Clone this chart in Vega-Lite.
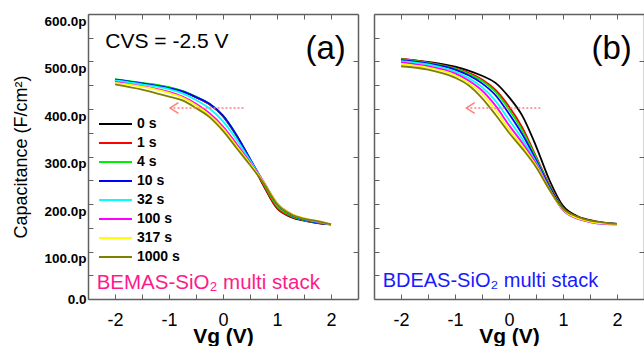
{
  "$schema": "https://vega.github.io/schema/vega-lite/v6.json",
  "padding": {"left": 12, "top": 13, "right": 0, "bottom": 0},
  "config": {
    "font": "Liberation Sans",
    "view": {"stroke": null},
    "axis": {"grid": false, "domainColor": "#606060", "tickColor": "#606060", "domainWidth": 1.5, "tickWidth": 1, "labelColor": "#000000", "titleColor": "#000000", "labelFont": "Liberation Sans", "titleFont": "Liberation Sans"},
    "line": {"strokeWidth": 1.8, "interpolate": "monotone"}
  },
  "datasets": {
    "curves": [
      {"p":"a","t":"0 s","v":-2,"c":462},{"p":"a","t":"0 s","v":-1.5,"c":454},{"p":"a","t":"0 s","v":-1,"c":445},{"p":"a","t":"0 s","v":-0.75,"c":437},{"p":"a","t":"0 s","v":-0.5,"c":425},{"p":"a","t":"0 s","v":-0.25,"c":410},{"p":"a","t":"0 s","v":0,"c":385},{"p":"a","t":"0 s","v":0.25,"c":344},{"p":"a","t":"0 s","v":0.5,"c":294},{"p":"a","t":"0 s","v":0.75,"c":239},{"p":"a","t":"0 s","v":1,"c":191},{"p":"a","t":"0 s","v":1.25,"c":173},{"p":"a","t":"0 s","v":1.5,"c":165},{"p":"a","t":"0 s","v":1.75,"c":160},{"p":"a","t":"0 s","v":2,"c":157},
      {"p":"a","t":"1 s","v":-2,"c":462},{"p":"a","t":"1 s","v":-1.5,"c":454},{"p":"a","t":"1 s","v":-1,"c":445},{"p":"a","t":"1 s","v":-0.75,"c":437},{"p":"a","t":"1 s","v":-0.5,"c":425},{"p":"a","t":"1 s","v":-0.25,"c":410},{"p":"a","t":"1 s","v":0,"c":385},{"p":"a","t":"1 s","v":0.25,"c":344},{"p":"a","t":"1 s","v":0.5,"c":294},{"p":"a","t":"1 s","v":0.75,"c":240},{"p":"a","t":"1 s","v":1,"c":192},{"p":"a","t":"1 s","v":1.25,"c":174},{"p":"a","t":"1 s","v":1.5,"c":166},{"p":"a","t":"1 s","v":1.75,"c":160},{"p":"a","t":"1 s","v":2,"c":157},
      {"p":"a","t":"4 s","v":-2,"c":463},{"p":"a","t":"4 s","v":-1.5,"c":455},{"p":"a","t":"4 s","v":-1,"c":446},{"p":"a","t":"4 s","v":-0.75,"c":438},{"p":"a","t":"4 s","v":-0.5,"c":426},{"p":"a","t":"4 s","v":-0.25,"c":411},{"p":"a","t":"4 s","v":0,"c":386},{"p":"a","t":"4 s","v":0.25,"c":345},{"p":"a","t":"4 s","v":0.5,"c":295},{"p":"a","t":"4 s","v":0.75,"c":243},{"p":"a","t":"4 s","v":1,"c":196},{"p":"a","t":"4 s","v":1.25,"c":176},{"p":"a","t":"4 s","v":1.5,"c":166},{"p":"a","t":"4 s","v":1.75,"c":161},{"p":"a","t":"4 s","v":2,"c":157},
      {"p":"a","t":"10 s","v":-2,"c":462},{"p":"a","t":"10 s","v":-1.5,"c":454},{"p":"a","t":"10 s","v":-1,"c":444},{"p":"a","t":"10 s","v":-0.75,"c":437},{"p":"a","t":"10 s","v":-0.5,"c":425},{"p":"a","t":"10 s","v":-0.25,"c":411},{"p":"a","t":"10 s","v":0,"c":386},{"p":"a","t":"10 s","v":0.25,"c":345},{"p":"a","t":"10 s","v":0.5,"c":295},{"p":"a","t":"10 s","v":0.75,"c":246},{"p":"a","t":"10 s","v":1,"c":200},{"p":"a","t":"10 s","v":1.25,"c":178},{"p":"a","t":"10 s","v":1.5,"c":167},{"p":"a","t":"10 s","v":1.75,"c":161},{"p":"a","t":"10 s","v":2,"c":157},
      {"p":"a","t":"32 s","v":-2,"c":460},{"p":"a","t":"32 s","v":-1.5,"c":452},{"p":"a","t":"32 s","v":-1,"c":442},{"p":"a","t":"32 s","v":-0.75,"c":433},{"p":"a","t":"32 s","v":-0.5,"c":419},{"p":"a","t":"32 s","v":-0.25,"c":401},{"p":"a","t":"32 s","v":0,"c":374},{"p":"a","t":"32 s","v":0.25,"c":336},{"p":"a","t":"32 s","v":0.5,"c":292},{"p":"a","t":"32 s","v":0.75,"c":247},{"p":"a","t":"32 s","v":1,"c":201},{"p":"a","t":"32 s","v":1.25,"c":179},{"p":"a","t":"32 s","v":1.5,"c":168},{"p":"a","t":"32 s","v":1.75,"c":162},{"p":"a","t":"32 s","v":2,"c":157},
      {"p":"a","t":"100 s","v":-2,"c":457},{"p":"a","t":"100 s","v":-1.5,"c":448},{"p":"a","t":"100 s","v":-1,"c":436},{"p":"a","t":"100 s","v":-0.75,"c":426},{"p":"a","t":"100 s","v":-0.5,"c":411},{"p":"a","t":"100 s","v":-0.25,"c":391},{"p":"a","t":"100 s","v":0,"c":363},{"p":"a","t":"100 s","v":0.25,"c":327},{"p":"a","t":"100 s","v":0.5,"c":288},{"p":"a","t":"100 s","v":0.75,"c":247},{"p":"a","t":"100 s","v":1,"c":202},{"p":"a","t":"100 s","v":1.25,"c":180},{"p":"a","t":"100 s","v":1.5,"c":169},{"p":"a","t":"100 s","v":1.75,"c":163},{"p":"a","t":"100 s","v":2,"c":157},
      {"p":"a","t":"317 s","v":-2,"c":455},{"p":"a","t":"317 s","v":-1.5,"c":447},{"p":"a","t":"317 s","v":-1,"c":434},{"p":"a","t":"317 s","v":-0.75,"c":424},{"p":"a","t":"317 s","v":-0.5,"c":408},{"p":"a","t":"317 s","v":-0.25,"c":387},{"p":"a","t":"317 s","v":0,"c":359},{"p":"a","t":"317 s","v":0.25,"c":322},{"p":"a","t":"317 s","v":0.5,"c":285},{"p":"a","t":"317 s","v":0.75,"c":246},{"p":"a","t":"317 s","v":1,"c":202},{"p":"a","t":"317 s","v":1.25,"c":180},{"p":"a","t":"317 s","v":1.5,"c":170},{"p":"a","t":"317 s","v":1.75,"c":164},{"p":"a","t":"317 s","v":2,"c":157},
      {"p":"a","t":"1000 s","v":-2,"c":452},{"p":"a","t":"1000 s","v":-1.5,"c":441},{"p":"a","t":"1000 s","v":-1,"c":426},{"p":"a","t":"1000 s","v":-0.75,"c":418},{"p":"a","t":"1000 s","v":-0.5,"c":402},{"p":"a","t":"1000 s","v":-0.25,"c":383},{"p":"a","t":"1000 s","v":0,"c":354},{"p":"a","t":"1000 s","v":0.25,"c":318},{"p":"a","t":"1000 s","v":0.5,"c":282},{"p":"a","t":"1000 s","v":0.75,"c":244},{"p":"a","t":"1000 s","v":1,"c":200},{"p":"a","t":"1000 s","v":1.25,"c":179},{"p":"a","t":"1000 s","v":1.5,"c":169},{"p":"a","t":"1000 s","v":1.75,"c":164},{"p":"a","t":"1000 s","v":2,"c":157},
      {"p":"b","t":"0 s","v":-2,"c":505},{"p":"b","t":"0 s","v":-1.5,"c":499},{"p":"b","t":"0 s","v":-1,"c":489},{"p":"b","t":"0 s","v":-0.75,"c":481},{"p":"b","t":"0 s","v":-0.5,"c":470},{"p":"b","t":"0 s","v":-0.25,"c":455},{"p":"b","t":"0 s","v":0,"c":425},{"p":"b","t":"0 s","v":0.25,"c":385},{"p":"b","t":"0 s","v":0.5,"c":322},{"p":"b","t":"0 s","v":0.75,"c":250},{"p":"b","t":"0 s","v":1,"c":196},{"p":"b","t":"0 s","v":1.25,"c":175},{"p":"b","t":"0 s","v":1.5,"c":166},{"p":"b","t":"0 s","v":1.75,"c":161},{"p":"b","t":"0 s","v":2,"c":158},
      {"p":"b","t":"1 s","v":-2,"c":506},{"p":"b","t":"1 s","v":-1.5,"c":498},{"p":"b","t":"1 s","v":-1,"c":486},{"p":"b","t":"1 s","v":-0.75,"c":476},{"p":"b","t":"1 s","v":-0.5,"c":462},{"p":"b","t":"1 s","v":-0.25,"c":440},{"p":"b","t":"1 s","v":0,"c":405},{"p":"b","t":"1 s","v":0.25,"c":360},{"p":"b","t":"1 s","v":0.5,"c":300},{"p":"b","t":"1 s","v":0.75,"c":240},{"p":"b","t":"1 s","v":1,"c":192},{"p":"b","t":"1 s","v":1.25,"c":173},{"p":"b","t":"1 s","v":1.5,"c":165},{"p":"b","t":"1 s","v":1.75,"c":160},{"p":"b","t":"1 s","v":2,"c":158},
      {"p":"b","t":"4 s","v":-2,"c":505},{"p":"b","t":"4 s","v":-1.5,"c":497},{"p":"b","t":"4 s","v":-1,"c":485},{"p":"b","t":"4 s","v":-0.75,"c":474},{"p":"b","t":"4 s","v":-0.5,"c":459},{"p":"b","t":"4 s","v":-0.25,"c":436},{"p":"b","t":"4 s","v":0,"c":399},{"p":"b","t":"4 s","v":0.25,"c":354},{"p":"b","t":"4 s","v":0.5,"c":297},{"p":"b","t":"4 s","v":0.75,"c":238},{"p":"b","t":"4 s","v":1,"c":191},{"p":"b","t":"4 s","v":1.25,"c":172},{"p":"b","t":"4 s","v":1.5,"c":164},{"p":"b","t":"4 s","v":1.75,"c":160},{"p":"b","t":"4 s","v":2,"c":158},
      {"p":"b","t":"10 s","v":-2,"c":503},{"p":"b","t":"10 s","v":-1.5,"c":496},{"p":"b","t":"10 s","v":-1,"c":483},{"p":"b","t":"10 s","v":-0.75,"c":471},{"p":"b","t":"10 s","v":-0.5,"c":454},{"p":"b","t":"10 s","v":-0.25,"c":429},{"p":"b","t":"10 s","v":0,"c":390},{"p":"b","t":"10 s","v":0.25,"c":346},{"p":"b","t":"10 s","v":0.5,"c":293},{"p":"b","t":"10 s","v":0.75,"c":236},{"p":"b","t":"10 s","v":1,"c":190},{"p":"b","t":"10 s","v":1.25,"c":172},{"p":"b","t":"10 s","v":1.5,"c":164},{"p":"b","t":"10 s","v":1.75,"c":160},{"p":"b","t":"10 s","v":2,"c":158},
      {"p":"b","t":"32 s","v":-2,"c":501},{"p":"b","t":"32 s","v":-1.5,"c":494},{"p":"b","t":"32 s","v":-1,"c":479},{"p":"b","t":"32 s","v":-0.75,"c":465},{"p":"b","t":"32 s","v":-0.5,"c":446},{"p":"b","t":"32 s","v":-0.25,"c":417},{"p":"b","t":"32 s","v":0,"c":377},{"p":"b","t":"32 s","v":0.25,"c":336},{"p":"b","t":"32 s","v":0.5,"c":288},{"p":"b","t":"32 s","v":0.75,"c":232},{"p":"b","t":"32 s","v":1,"c":187},{"p":"b","t":"32 s","v":1.25,"c":170},{"p":"b","t":"32 s","v":1.5,"c":162},{"p":"b","t":"32 s","v":1.75,"c":158},{"p":"b","t":"32 s","v":2,"c":157},
      {"p":"b","t":"100 s","v":-2,"c":498},{"p":"b","t":"100 s","v":-1.5,"c":490},{"p":"b","t":"100 s","v":-1,"c":475},{"p":"b","t":"100 s","v":-0.75,"c":460},{"p":"b","t":"100 s","v":-0.5,"c":439},{"p":"b","t":"100 s","v":-0.25,"c":407},{"p":"b","t":"100 s","v":0,"c":366},{"p":"b","t":"100 s","v":0.25,"c":328},{"p":"b","t":"100 s","v":0.5,"c":285},{"p":"b","t":"100 s","v":0.75,"c":231},{"p":"b","t":"100 s","v":1,"c":187},{"p":"b","t":"100 s","v":1.25,"c":170},{"p":"b","t":"100 s","v":1.5,"c":162},{"p":"b","t":"100 s","v":1.75,"c":158},{"p":"b","t":"100 s","v":2,"c":157},
      {"p":"b","t":"317 s","v":-2,"c":495},{"p":"b","t":"317 s","v":-1.5,"c":487},{"p":"b","t":"317 s","v":-1,"c":471},{"p":"b","t":"317 s","v":-0.75,"c":455},{"p":"b","t":"317 s","v":-0.5,"c":432},{"p":"b","t":"317 s","v":-0.25,"c":398},{"p":"b","t":"317 s","v":0,"c":357},{"p":"b","t":"317 s","v":0.25,"c":321},{"p":"b","t":"317 s","v":0.5,"c":281},{"p":"b","t":"317 s","v":0.75,"c":230},{"p":"b","t":"317 s","v":1,"c":188},{"p":"b","t":"317 s","v":1.25,"c":171},{"p":"b","t":"317 s","v":1.5,"c":163},{"p":"b","t":"317 s","v":1.75,"c":159},{"p":"b","t":"317 s","v":2,"c":158},
      {"p":"b","t":"1000 s","v":-2,"c":490},{"p":"b","t":"1000 s","v":-1.5,"c":483},{"p":"b","t":"1000 s","v":-1,"c":466},{"p":"b","t":"1000 s","v":-0.75,"c":450},{"p":"b","t":"1000 s","v":-0.5,"c":423},{"p":"b","t":"1000 s","v":-0.25,"c":388},{"p":"b","t":"1000 s","v":0,"c":350},{"p":"b","t":"1000 s","v":0.25,"c":316},{"p":"b","t":"1000 s","v":0.5,"c":278},{"p":"b","t":"1000 s","v":0.75,"c":230},{"p":"b","t":"1000 s","v":1,"c":190},{"p":"b","t":"1000 s","v":1.25,"c":174},{"p":"b","t":"1000 s","v":1.5,"c":165},{"p":"b","t":"1000 s","v":1.75,"c":161},{"p":"b","t":"1000 s","v":2,"c":158}
    ]
  },
  "spacing": 14,
  "resolve": {"scale": {"color": "independent"}},
  "hconcat": [
    {
      "width": 270,
      "height": 285,
      "resolve": {"axis": {"x": "independent", "y": "independent"}},
      "layer": [
        {
          "data": {"name": "curves"},
          "transform": [{"filter": "datum.p == 'a'"}],
          "mark": {"type": "line"},
          "encoding": {
            "x": {"field": "v", "type": "quantitative", "scale": {"domain": [-2.5, 2.5], "nice": false},
              "axis": {"orient": "bottom", "values": [-2, -1.5, -1, -0.5, 0, 0.5, 1, 1.5, 2], "labelExpr": "datum.value % 1 == 0 ? '' + datum.value : ''", "tickSize": -5, "labelPadding": 17, "labelFontSize": 18, "labelFlush": false, "labelOverlap": false, "title": "Vg (V)", "titleFontSize": 21, "titleFontWeight": "bold", "titlePadding": -4}},
            "y": {"field": "c", "type": "quantitative", "scale": {"domain": [0, 600], "nice": false},
              "axis": {"orient": "left", "values": [0, 50, 100, 150, 200, 250, 300, 350, 400, 450, 500, 550, 600], "labelExpr": "datum.value % 100 != 0 ? '' : (datum.value == 0 ? '0.0' : datum.value + '.0p')", "tickSize": -5, "labelPadding": 7, "labelFontSize": 13.5, "labelFontWeight": "bold", "labelBaseline": {"condition": {"test": "datum.value == 0", "value": "middle"}, "value": "top"}, "labelFlush": false, "labelOverlap": false, "title": "Capacitance (F/cm²)", "titleFontSize": 18, "titleFontWeight": "normal", "titlePadding": 13}},
            "color": {"field": "t", "type": "nominal",
              "scale": {"domain": ["0 s", "1 s", "4 s", "10 s", "32 s", "100 s", "317 s", "1000 s"], "range": ["#000000", "#ff0000", "#00ee00", "#0000ff", "#00ffff", "#ff00ff", "#ffff00", "#808000"]},
              "legend": {"orient": "none", "legendX": 4, "legendY": 103, "title": null, "symbolType": "M0,0H6", "symbolSize": 121, "symbolStrokeWidth": 2.5, "labelFontSize": 14, "labelFontWeight": "bold", "labelOffset": 31, "rowPadding": 5, "padding": 0, "labelColor": "#000000"}}
          }
        },
        {
          "data": {"values": [{"x1": 0.38, "x2": -0.98, "y": 402}]},
          "mark": {"type": "rule", "color": "#ff7f7f", "strokeWidth": 1.5, "strokeDash": [2, 2]},
          "encoding": {
            "x": {"field": "x1", "type": "quantitative", "scale": {"domain": [-2.5, 2.5], "nice": false},
              "axis": {"orient": "top", "values": [-2, -1.5, -1, -0.5, 0, 0.5, 1, 1.5, 2], "labels": false, "tickSize": -5, "title": null}},
            "x2": {"field": "x2"},
            "y": {"field": "y", "type": "quantitative", "scale": {"domain": [0, 600], "nice": false},
              "axis": {"orient": "right", "values": [100, 200, 300, 400, 500], "labels": false, "tickSize": -5, "title": null}}
          }
        },
        {
          "data": {"values": [{"x": -0.98, "y": 402}]},
          "mark": {"type": "point", "shape": "M2,-1.3L0,0L2,1.3", "size": 69, "filled": false, "stroke": "#ff7f7f", "strokeWidth": 1.5, "opacity": 1},
          "encoding": {
            "x": {"field": "x", "type": "quantitative", "scale": {"domain": [-2.5, 2.5], "nice": false}, "axis": null},
            "y": {"field": "y", "type": "quantitative", "scale": {"domain": [0, 600], "nice": false}, "axis": null}
          }
        },
        {
          "data": {"values": [{"x": -2.18, "y": 528, "label": "CVS = -2.5 V"}]},
          "mark": {"type": "text", "align": "left", "baseline": "alphabetic", "fontSize": 21, "color": "#000000"},
          "encoding": {
            "x": {"field": "x", "type": "quantitative", "scale": {"domain": [-2.5, 2.5], "nice": false}, "axis": null},
            "y": {"field": "y", "type": "quantitative", "scale": {"domain": [0, 600], "nice": false}, "axis": null},
            "text": {"field": "label"}
          }
        },
        {
          "data": {"values": [{"x": 1.9, "y": 505, "label": "(a)"}]},
          "mark": {"type": "text", "align": "center", "baseline": "alphabetic", "fontSize": 33, "color": "#000000"},
          "encoding": {
            "x": {"field": "x", "type": "quantitative", "scale": {"domain": [-2.5, 2.5], "nice": false}, "axis": null},
            "y": {"field": "y", "type": "quantitative", "scale": {"domain": [0, 600], "nice": false}, "axis": null},
            "text": {"field": "label"}
          }
        },
        {
          "data": {"values": [{"x": -2.34, "y": 21, "label": "BEMAS-SiO₂ multi stack"}]},
          "mark": {"type": "text", "align": "left", "baseline": "alphabetic", "fontSize": 20.5, "color": "#ff1a8c"},
          "encoding": {
            "x": {"field": "x", "type": "quantitative", "scale": {"domain": [-2.5, 2.5], "nice": false}, "axis": null},
            "y": {"field": "y", "type": "quantitative", "scale": {"domain": [0, 600], "nice": false}, "axis": null},
            "text": {"field": "label"}
          }
        }
      ]
    },
    {
      "width": 270,
      "height": 285,
      "resolve": {"axis": {"x": "independent", "y": "independent"}},
      "layer": [
        {
          "data": {"name": "curves"},
          "transform": [{"filter": "datum.p == 'b'"}],
          "mark": {"type": "line"},
          "encoding": {
            "x": {"field": "v", "type": "quantitative", "scale": {"domain": [-2.5, 2.5], "nice": false},
              "axis": {"orient": "bottom", "values": [-2, -1.5, -1, -0.5, 0, 0.5, 1, 1.5, 2], "labelExpr": "datum.value % 1 == 0 ? '' + datum.value : ''", "tickSize": -5, "labelPadding": 17, "labelFontSize": 18, "labelFlush": false, "labelOverlap": false, "title": "Vg (V)", "titleFontSize": 21, "titleFontWeight": "bold", "titlePadding": -4}},
            "y": {"field": "c", "type": "quantitative", "scale": {"domain": [0, 600], "nice": false},
              "axis": {"orient": "left", "values": [0, 50, 100, 150, 200, 250, 300, 350, 400, 450, 500, 550, 600], "labels": false, "tickSize": -5, "title": null}},
            "color": {"field": "t", "type": "nominal",
              "scale": {"domain": ["0 s", "1 s", "4 s", "10 s", "32 s", "100 s", "317 s", "1000 s"], "range": ["#000000", "#ff0000", "#00ee00", "#0000ff", "#00ffff", "#ff00ff", "#ffff00", "#808000"]},
              "legend": null}
          }
        },
        {
          "data": {"values": [{"x1": 0.58, "x2": -0.79, "y": 402}]},
          "mark": {"type": "rule", "color": "#ff7f7f", "strokeWidth": 1.5, "strokeDash": [2, 2]},
          "encoding": {
            "x": {"field": "x1", "type": "quantitative", "scale": {"domain": [-2.5, 2.5], "nice": false},
              "axis": {"orient": "top", "values": [-2, -1.5, -1, -0.5, 0, 0.5, 1, 1.5, 2], "labels": false, "tickSize": -5, "title": null}},
            "x2": {"field": "x2"},
            "y": {"field": "y", "type": "quantitative", "scale": {"domain": [0, 600], "nice": false},
              "axis": {"orient": "right", "values": [100, 200, 300, 400, 500], "labels": false, "tickSize": -5, "title": null}}
          }
        },
        {
          "data": {"values": [{"x": -0.79, "y": 402}]},
          "mark": {"type": "point", "shape": "M2,-1.3L0,0L2,1.3", "size": 69, "filled": false, "stroke": "#ff7f7f", "strokeWidth": 1.5, "opacity": 1},
          "encoding": {
            "x": {"field": "x", "type": "quantitative", "scale": {"domain": [-2.5, 2.5], "nice": false}, "axis": null},
            "y": {"field": "y", "type": "quantitative", "scale": {"domain": [0, 600], "nice": false}, "axis": null}
          }
        },
        {
          "data": {"values": [{"x": 1.9, "y": 505, "label": "(b)"}]},
          "mark": {"type": "text", "align": "center", "baseline": "alphabetic", "fontSize": 33, "color": "#000000"},
          "encoding": {
            "x": {"field": "x", "type": "quantitative", "scale": {"domain": [-2.5, 2.5], "nice": false}, "axis": null},
            "y": {"field": "y", "type": "quantitative", "scale": {"domain": [0, 600], "nice": false}, "axis": null},
            "text": {"field": "label"}
          }
        },
        {
          "data": {"values": [{"x": -2.34, "y": 25, "label": "BDEAS-SiO₂ multi stack"}]},
          "mark": {"type": "text", "align": "left", "baseline": "alphabetic", "fontSize": 20, "color": "#1a1aff"},
          "encoding": {
            "x": {"field": "x", "type": "quantitative", "scale": {"domain": [-2.5, 2.5], "nice": false}, "axis": null},
            "y": {"field": "y", "type": "quantitative", "scale": {"domain": [0, 600], "nice": false}, "axis": null},
            "text": {"field": "label"}
          }
        }
      ]
    }
  ]
}
